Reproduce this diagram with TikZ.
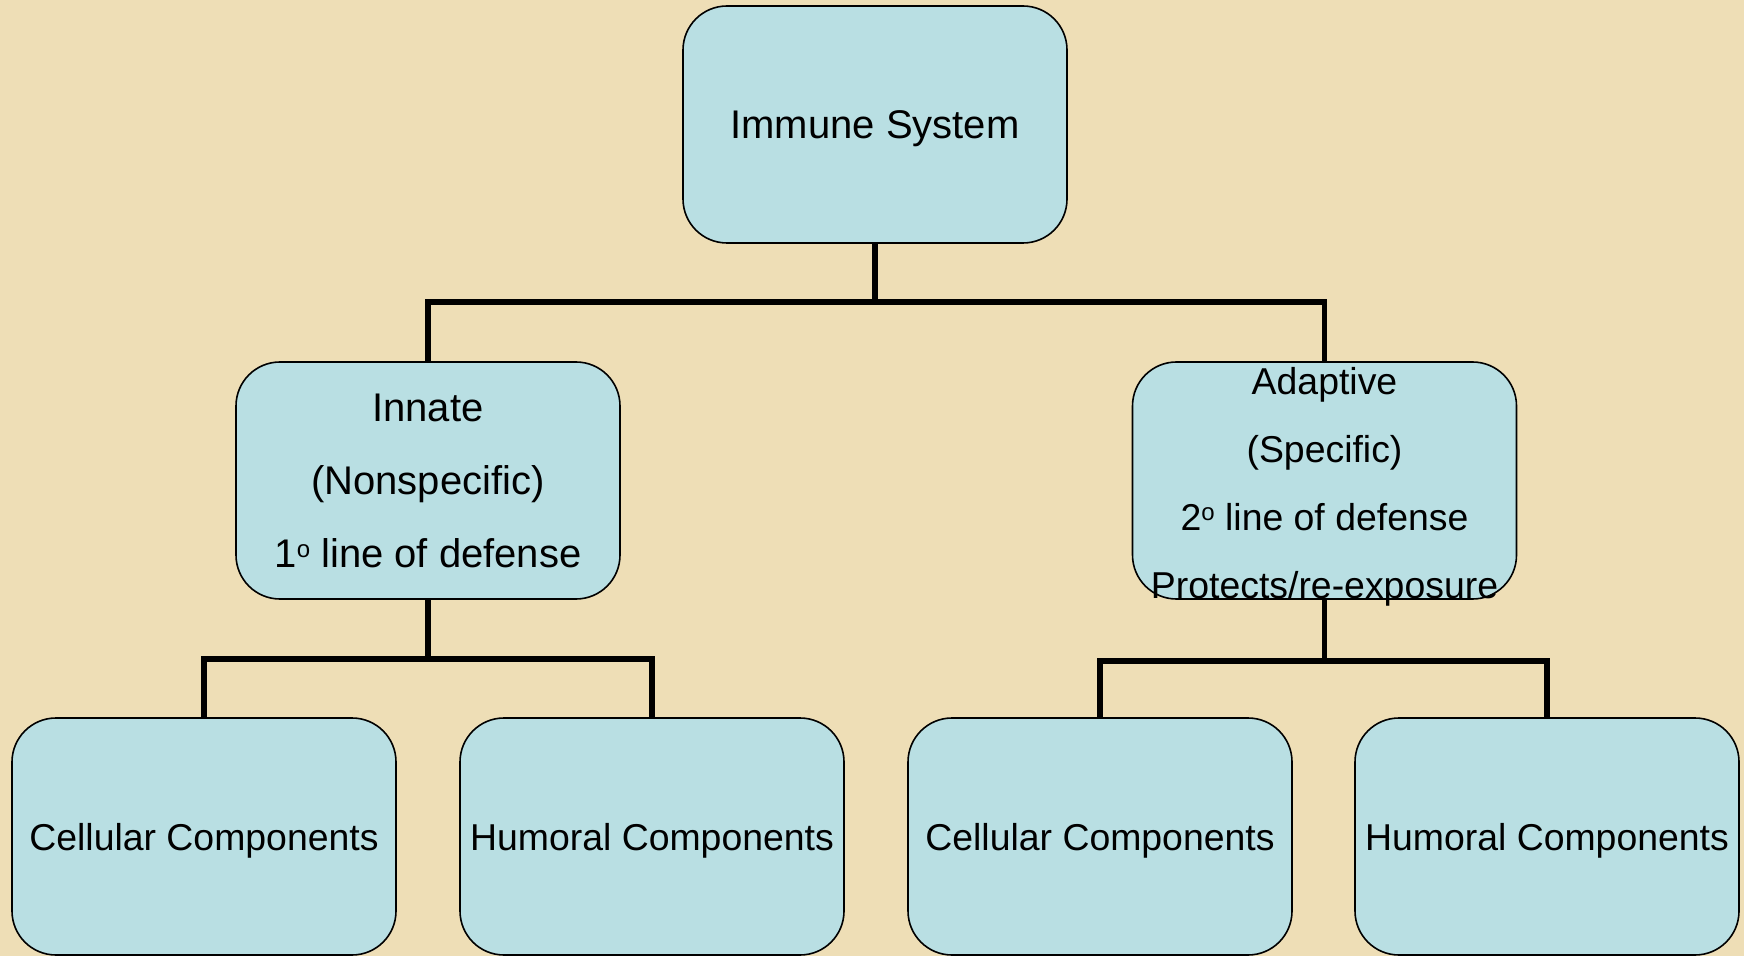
\documentclass[tikz,border=0pt]{standalone}
\usepackage{fontspec}
\setmainfont{Liberation Sans}
\definecolor{parchment}{RGB}{238,222,182}
\definecolor{boxblue}{RGB}{185,223,227}
\newcommand{\ordo}{\raisebox{5pt}{\fontsize{12}{12}\selectfont o}}
\tikzset{
  box/.style={draw=black, line width=0.8pt, fill=boxblue, rounded corners=22pt,
    minimum width=192pt, minimum height=118.5pt, inner sep=2pt, align=center,
    text depth=-3pt, font=\fontsize{18.7}{34}\selectfont},
  bigtext/.style={font=\fontsize{20}{36.5}\selectfont},
  boxtext/.style={align=center, text depth=0pt, font=\fontsize{18.7}{34}\selectfont},
  link/.style={line width=2.6pt, line join=miter}
}
\begin{document}
\begin{tikzpicture}[x=0.5pt,y=-0.5pt]

% Background
\useasboundingbox (0,0) rectangle (1744,956);
\fill[parchment] (0,0) rectangle (1744,956);

% Nodes
\node[box,bigtext] (immune) at (875,124.5) {Immune System};
\node[box,bigtext] (innate) at (428,480.5) {Innate\\(Nonspecific)\\1\ordo{} line of defense};
\node[box] (adaptive) at (1324.5,480.5) {};
\node[box] (cell1) at (204,836.5) {Cellular Components};
\node[box] (hum1) at (652,836.5) {Humoral Components};
\node[box] (cell2) at (1100,836.5) {Cellular Components};
\node[box] (hum2) at (1547,836.5) {Humoral Components};

% Junctions
\coordinate (topbar) at (875,302);
\coordinate (innatebar) at (428,659);
\coordinate (adaptivebar) at (1324.5,661);

% Edges
\draw[link] (immune) -- (topbar) -| (innate);
\draw[link] (topbar) -| (adaptive);
\draw[link] (innate) -- (innatebar) -| (cell1);
\draw[link] (innatebar) -| (hum1);
\draw[link] (adaptive) -- (adaptivebar) -| (cell2);
\draw[link] (adaptivebar) -| (hum2);

% Text that runs over the box
\node[boxtext,yshift=-1pt] (adaptivetext) at (adaptive.center) {Adaptive\\(Specific)\\2\ordo{} line of defense\\Protects/re-exposure};

\end{tikzpicture}
\end{document}
